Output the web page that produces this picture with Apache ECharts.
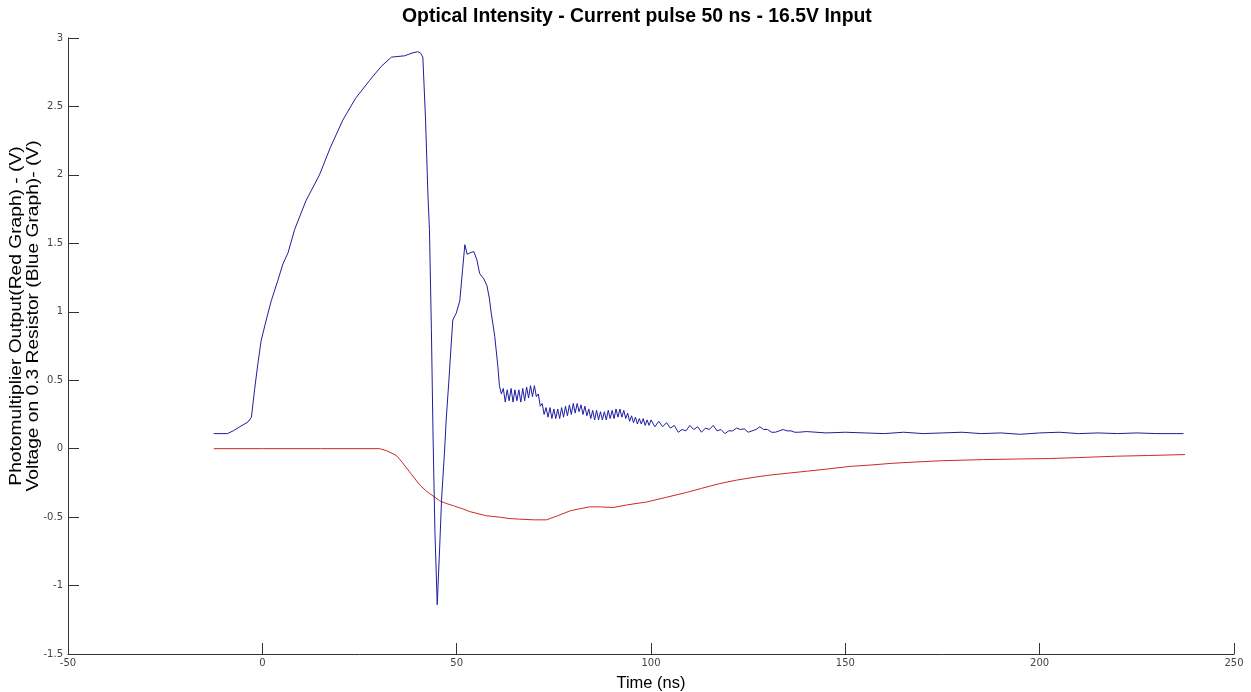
<!DOCTYPE html>
<html>
<head>
<meta charset="utf-8">
<title>Optical Intensity - Current pulse 50 ns - 16.5V Input</title>
<script src="https://cdn.jsdelivr.net/npm/echarts@6/dist/echarts.min.js"></script>
<style>
  html, body { margin: 0; padding: 0; background: #ffffff; overflow: hidden; }
  #chart { width: 1251px; height: 692px; }
</style>
</head>
<body>
<div id="chart"></div>
<script>
// Axis ticks
const xTicks = [-50, 0, 50, 100, 150, 200, 250];
const yTicks = [-1.5, -1, -0.5, 0, 0.5, 1, 1.5, 2, 2.5, 3];

// Voltage on the 0.3 ohm resistor (blue trace): [time ns, volts]
const resistorRise = [
  [-12.5, 0.11], [-9, 0.11], [-7.5, 0.13], [-5.8, 0.16], [-3.7, 0.195], [-2.8, 0.23],
  [-2.0, 0.43], [-1.15, 0.62], [-0.3, 0.79], [1.0, 0.94], [2.3, 1.08], [4.0, 1.23],
  [5.3, 1.35], [6.6, 1.43], [8.3, 1.60], [11.2, 1.81], [14.7, 2.0], [17.5, 2.2],
  [20.7, 2.40], [24, 2.56], [27.6, 2.69], [30.5, 2.79], [33.2, 2.86], [36.6, 2.87],
  [38.5, 2.89], [40, 2.90], [40.7, 2.89], [41.3, 2.86]
];
const resistorSwing = [
  [42.0, 2.4], [42.6, 1.86], [43.0, 1.6], [43.5, 0.87], [43.9, 0.13], [44.4, -0.6],
  [45.0, -1.14], [45.6, -0.74], [46.1, -0.38], [46.9, -0.01], [47.3, 0.21], [48, 0.5],
  [49, 0.94], [49.9, 0.99], [50.8, 1.08], [51.5, 1.3], [52.1, 1.49], [52.7, 1.42],
  [53.4, 1.43], [54.4, 1.44], [55.2, 1.38], [55.9, 1.28], [57, 1.24], [57.8, 1.19],
  [58.4, 1.1], [58.9, 0.99], [59.8, 0.82], [60.6, 0.60]
];
const resistorRinging = [
  [61, 0.46], [61.5, 0.40], [62, 0.44], [62.5, 0.34], [63, 0.43], [63.5, 0.35],
  [64, 0.44], [64.5, 0.34], [65, 0.43], [65.5, 0.35], [66, 0.43], [66.5, 0.34],
  [67, 0.44], [67.5, 0.35], [68, 0.45], [68.5, 0.37], [69, 0.46], [69.5, 0.38],
  [70, 0.46], [70.5, 0.38], [71, 0.40], [71.5, 0.31], [72, 0.33], [72.5, 0.25],
  [73, 0.30], [73.5, 0.23], [74, 0.30], [74.5, 0.22], [75, 0.29], [75.5, 0.22],
  [76, 0.29], [76.5, 0.22], [77, 0.30], [77.5, 0.23], [78, 0.31], [78.5, 0.24],
  [79, 0.32], [79.5, 0.25], [80, 0.33], [80.5, 0.26], [81, 0.33], [81.5, 0.27],
  [82, 0.32], [82.5, 0.25], [83, 0.31], [83.5, 0.24], [84, 0.29], [84.5, 0.22],
  [85, 0.28], [85.5, 0.21], [86, 0.28], [86.5, 0.21], [87, 0.27], [87.5, 0.21],
  [88, 0.27], [88.5, 0.21], [89, 0.28], [89.5, 0.22], [90, 0.28], [90.5, 0.22],
  [91, 0.29], [91.5, 0.23], [92, 0.29], [92.5, 0.23], [93, 0.28], [93.5, 0.22],
  [94, 0.26], [94.5, 0.20], [95, 0.24], [95.5, 0.19], [96, 0.23], [96.5, 0.18],
  [97, 0.22], [97.5, 0.18], [98, 0.22], [98.5, 0.17], [99, 0.21], [99.5, 0.17],
  [100, 0.21], [101, 0.16], [102, 0.20], [103, 0.16], [104, 0.19], [105, 0.15],
  [106, 0.17], [107, 0.12], [108, 0.14], [109, 0.13], [110, 0.17], [111, 0.14],
  [112, 0.16], [113, 0.12], [114, 0.15], [115, 0.14], [116, 0.17], [117, 0.13],
  [118, 0.14], [119, 0.11], [120, 0.13], [121, 0.13], [122, 0.15], [123, 0.14],
  [124, 0.145], [125, 0.12], [126, 0.13], [127, 0.14], [128, 0.16], [129, 0.14],
  [130, 0.14], [131, 0.12], [132, 0.12], [133, 0.13], [134, 0.14], [135, 0.13],
  [136, 0.13], [137, 0.12], [138, 0.12]
];
const resistorTail = [
  [140, 0.125], [145, 0.115], [150, 0.12], [155, 0.115], [160, 0.11], [165, 0.12],
  [170, 0.11], [175, 0.115], [180, 0.12], [185, 0.11], [190, 0.115], [195, 0.105],
  [200, 0.115], [205, 0.12], [210, 0.11], [215, 0.115], [220, 0.11], [225, 0.115],
  [230, 0.11], [237, 0.11]
];

// Photomultiplier output (red trace): [time ns, volts]
const pmtOutput = [
  [-12.5, 0], [0, 0], [15, 0], [29, 0], [30.2, 0], [32, -0.015], [34.5, -0.05],
  [36, -0.1], [37.9, -0.17], [40.5, -0.265], [42.2, -0.31], [43.9, -0.345], [45.6, -0.38],
  [47.3, -0.40], [49.5, -0.42], [51.6, -0.44], [53.4, -0.46], [55.5, -0.475],
  [57.6, -0.49], [61, -0.50], [63.5, -0.51], [66.2, -0.515], [70, -0.52], [73.1, -0.52],
  [76, -0.49], [79.1, -0.455], [81.5, -0.44], [84.2, -0.425], [87, -0.425], [90.2, -0.43],
  [94, -0.41], [98.8, -0.39], [104, -0.355], [109.1, -0.32], [113, -0.29], [117.7, -0.255],
  [122, -0.23], [126.3, -0.21], [130, -0.195], [134.9, -0.18], [140, -0.165], [145, -0.15],
  [151, -0.13], [156.3, -0.12], [162, -0.107], [168.3, -0.097], [175, -0.088],
  [185.5, -0.08], [195, -0.075], [202.6, -0.072], [210, -0.065], [219.8, -0.055],
  [228, -0.05], [237.4, -0.043]
];

const resistorVoltage = resistorRise.concat(resistorSwing, resistorRinging, resistorTail);

const chart = echarts.init(document.getElementById('chart'), null, { renderer: 'canvas' });

const axisColor = '#333333';
const labelStyle = { color: '#444444', fontFamily: 'DejaVu Sans', fontSize: 10 };
const yNameStyle = {
  fontFamily: 'Liberation Sans', fontSize: 16, fill: '#000000',
  textAlign: 'center', textVerticalAlign: 'middle'
};

chart.setOption({
  animation: false,
  backgroundColor: '#ffffff',
  title: {
    text: 'Optical Intensity - Current pulse 50 ns - 16.5V Input',
    left: 397,
    top: 2,
    textStyle: { fontFamily: 'Liberation Sans', fontWeight: 'bold', fontSize: 19.4, color: '#000000' }
  },
  grid: {
    left: 68, right: 17, top: 38, bottom: 38,
    containLabel: false,
    outerBoundsMode: 'none'
  },
  xAxis: {
    type: 'value',
    min: xTicks[0],
    max: xTicks[xTicks.length - 1],
    interval: 50,
    name: 'Time (ns)',
    nameLocation: 'middle',
    nameGap: 21,
    nameTextStyle: { fontFamily: 'Liberation Sans', fontSize: 16.5, color: '#000000' },
    axisLine: { show: true, onZero: false, lineStyle: { color: axisColor, width: 1 } },
    axisTick: { show: true, inside: true, length: 11, lineStyle: { color: axisColor } },
    axisLabel: Object.assign({ margin: 4 }, labelStyle),
    splitLine: { show: false }
  },
  yAxis: {
    type: 'value',
    min: yTicks[0],
    max: yTicks[yTicks.length - 1],
    interval: 0.5,
    axisLine: { show: true, onZero: false, lineStyle: { color: axisColor, width: 1 } },
    axisTick: { show: true, inside: true, length: 11, lineStyle: { color: axisColor } },
    axisLabel: Object.assign({ margin: 5 }, labelStyle),
    splitLine: { show: false }
  },
  graphic: [
    {
      type: 'text',
      x: 17, y: 316, rotation: Math.PI / 2, scaleX: 1.2,
      style: Object.assign({ text: 'Photomultiplier Output(Red Graph) - (V)' }, yNameStyle)
    },
    {
      type: 'text',
      x: 34, y: 316, rotation: Math.PI / 2, scaleX: 1.2,
      style: Object.assign({ text: 'Voltage on 0.3 Resistor (Blue Graph)- (V)' }, yNameStyle)
    }
  ],
  series: [
    {
      name: 'Photomultiplier Output',
      type: 'line',
      data: pmtOutput,
      showSymbol: false,
      sampling: 'none',
      lineStyle: { color: '#d02828', width: 1 },
      z: 2
    },
    {
      name: 'Resistor Voltage',
      type: 'line',
      data: resistorVoltage,
      showSymbol: false,
      sampling: 'none',
      lineStyle: { color: '#1e1ea0', width: 1 },
      z: 3
    }
  ]
});
</script>
</body>
</html>
